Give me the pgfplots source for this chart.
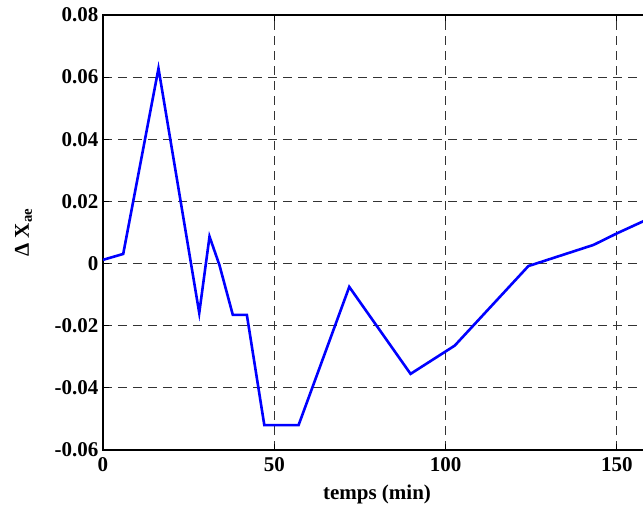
\documentclass[border=0pt]{standalone}
\usepackage{fontspec}
\setmainfont{Liberation Serif}
\usepackage{pgfplots}
\pgfplotsset{compat=1.18}
\begin{document}
\begin{tikzpicture}
\begin{axis}[
  scale only axis, width=548bp, height=435bp,
  xmin=0, xmax=160, ymin=-0.06, ymax=0.08,
  xtick={0,50,100,150},
  ytick={-0.06,-0.04,-0.02,0,0.02,0.04,0.06,0.08},
  /pgf/number format/assume math mode=true,
  yticklabel style={/pgf/number format/fixed, /pgf/number format/precision=2},
  scaled y ticks=false,
  tick label style={font=\fontsize{21bp}{25bp}\selectfont\bfseries},
  label style={font=\fontsize{21bp}{25bp}\selectfont\bfseries},
  xticklabel style={yshift=-4bp},
  yticklabel style={xshift=-1bp},
  tick align=inside, major tick length=6bp,
  tick style={black, line width=1bp},
  axis line style={black, line width=1.4bp},
  grid=major,
  major grid style={black!80, line width=1bp, dash pattern=on 9bp off 6bp},
  xlabel={temps (min)},
  xlabel style={at={(axis description cs:0.5,-0.113)}, anchor=base},
  ylabel={Δ X\textsubscript{ae}},
  ylabel style={at={(axis description cs:-0.145,0.5)}, anchor=center, rotate=0},
]
\addplot[color={rgb,255:red,0;green,0;blue,255}, line width=2.6bp] coordinates {
(0,0.0012) (5.9,0.0031) (16.2,0.0628) (28.1,-0.0159) (31.1,0.0087) (34.0,-0.0005)
(37.9,-0.0165) (42.0,-0.0165) (47.1,-0.052) (57.1,-0.052) (71.9,-0.0075)
(89.8,-0.0355) (102.7,-0.0264) (124.2,-0.0008) (143.2,0.006) (150.2,0.0098) (158.5,0.0140)
};
\end{axis}
\pgfresetboundingbox
\useasboundingbox (-103bp,-59bp) rectangle (540bp,450bp);
\end{tikzpicture}
\end{document}
